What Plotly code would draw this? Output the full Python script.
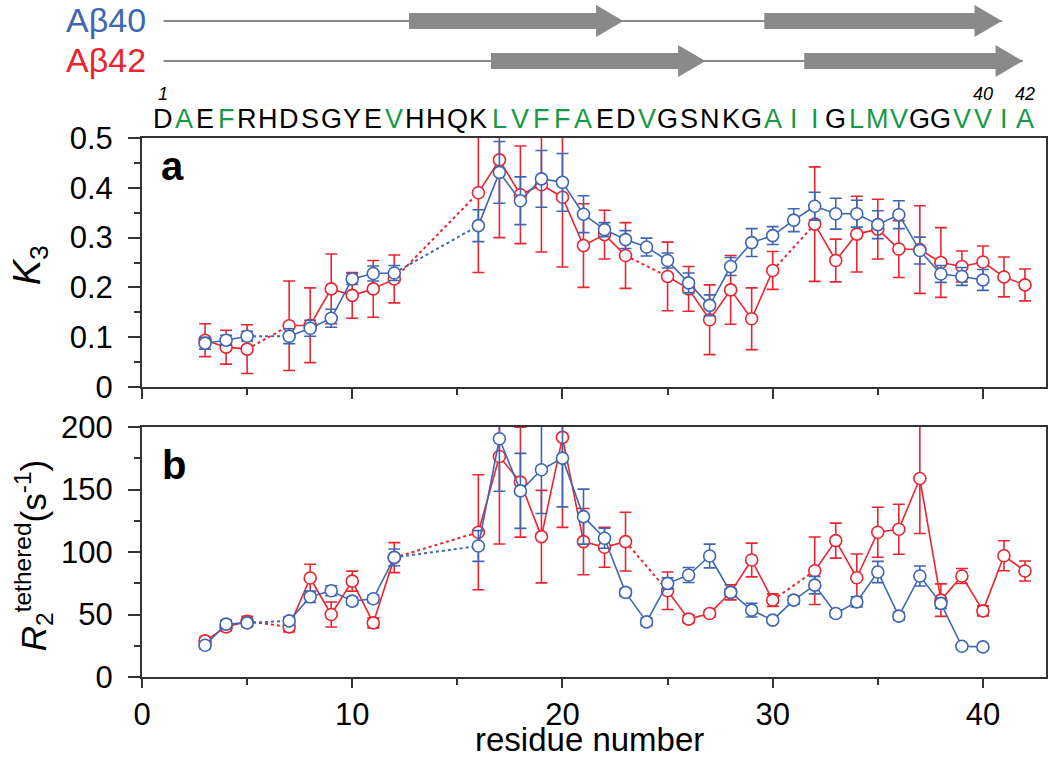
import plotly.graph_objects as go

# ---------------- data ----------------
residues = list(range(3, 43))
N = None
k3_ab40 = [0.088, 0.094, 0.102, N, 0.102, 0.118, 0.138, 0.217, 0.228, 0.229, N, N, N,
           0.324, 0.431, 0.374, 0.418, 0.411, 0.347, 0.316, 0.296, 0.281, 0.254, 0.209,
           0.164, 0.242, 0.290, 0.304, 0.335, 0.363, 0.348, 0.348, 0.326, 0.346, 0.274,
           0.227, 0.222, 0.215, N, N]
k3_ab40_err = [0.012, 0.010, 0.010, N, 0.015, 0.016, 0.018, 0.011, 0.015, 0.015, N, N, N,
               0.032, 0.062, 0.048, 0.057, 0.058, 0.037, 0.014, 0.018, 0.018, 0.015, 0.020,
               0.021, 0.018, 0.028, 0.018, 0.023, 0.028, 0.031, 0.027, 0.028, 0.028, 0.027,
               0.017, 0.018, 0.021, N, N]
k3_ab42 = [0.094, 0.080, 0.076, N, 0.123, 0.124, 0.197, 0.184, 0.197, 0.217, N, N, N,
           0.390, 0.456, 0.386, 0.406, 0.381, 0.284, 0.306, 0.264, N, 0.222, 0.197,
           0.135, 0.195, 0.137, 0.234, N, 0.327, 0.254, 0.307, 0.317, 0.277, 0.276,
           0.250, 0.242, 0.251, 0.221, 0.205]
k3_ab42_err = [0.033, 0.034, 0.049, N, 0.090, 0.075, 0.070, 0.046, 0.057, 0.048, N, N, N,
               0.160, 0.156, 0.098, 0.135, 0.140, 0.084, 0.049, 0.066, N, 0.069, 0.045,
               0.070, 0.069, 0.062, 0.038, N, 0.115, 0.043, 0.076, 0.060, 0.057, 0.088,
               0.070, 0.031, 0.032, 0.040, 0.032]
r2_ab40 = [25.4, 42.3, 43.3, N, 44.9, 64.2, 69.0, 60.7, 62.6, 95.7, N, N, N,
           104.8, 190.6, 148.9, 165.8, 175.1, 128.3, 111.0, 67.7, 44.1, 74.9, 81.6,
           96.8, 67.7, 53.5, 45.5, 61.5, 73.5, 50.8, 60.1, 84.0, 48.7, 80.8,
           58.9, 24.6, 24.1, N, N]
r2_ab40_err = [3, 3, 3, N, 3, 4.5, 4, 3, 3, 6.7, N, N, N,
               12.3, 42, 30, 35, 39, 22, 8, 3, 3, 4.5, 6,
               9.5, 3, 5.5, 2, 3, 7, 3, 4, 8.5, 3, 8,
               4, 2, 2, N, N]
r2_ab42 = [28.9, 40.1, 44.5, N, 40.1, 79.2, 50.0, 76.7, 43.3, 95.5, N, N, N,
           115.8, 176.4, 155.9, 112.3, 191.7, 108.3, 103.8, 108.3, N, 69.0, 46.3,
           50.8, 67.7, 93.6, 61.5, N, 85.0, 109.1, 79.4, 115.8, 118.2, 158.8,
           61.5, 80.8, 52.9, 97.0, 84.8]
r2_ab42_err = [3, 3, 4, N, 4, 11, 10, 8, 4, 12, N, N, N,
               46, 70, 44, 37, 72, 26.5, 16, 23.5, N, 15, 3,
               3, 6, 13.5, 5, N, 27, 14, 19, 20, 20, 44,
               13, 6, 4, 12, 8]

sequence = "DAEFRHDSGYEVHHQKLVFFAEDVGSNKGAIIGLMVGGVVIA"
hydrophobic = [2, 4, 12, 17, 18, 19, 20, 21, 24, 30, 31, 32, 34, 35, 36, 39, 40, 41, 42]
seq_numbers = [1, 40, 42]
strands_ab40 = [(12.7, 22.9), (29.6, 40.9)]
strands_ab42 = [(16.6, 26.8), (31.5, 41.9)]
line_end = {"Aβ40": 40.9, "Aβ42": 41.9}

BLUE = "#3e66b3"
RED = "#ea2530"
GREEN = "#17994a"
GRAY = "#8a8a8a"
FONT = "Liberation Sans, Arial, Helvetica, sans-serif"
NARROW = "Liberation Sans Narrow, Liberation Sans, Arial, sans-serif"


def segments(x, y):
    """solid (consecutive) and dotted (across gaps) polylines"""
    pts = [(a, b) for a, b in zip(x, y) if b is not None]
    sx, sy, dx, dy = [], [], [], []
    prev = None
    for a, b in pts:
        if prev is not None:
            if a - prev[0] == 1:
                sx += [prev[0], a, None]; sy += [prev[1], b, None]
            else:
                dx += [prev[0], a, None]; dy += [prev[1], b, None]
        prev = (a, b)
    return sx, sy, dx, dy


fig = go.Figure()


def add_series(y, err, color, xa, ya):
    sx, sy, dx, dy = segments(residues, y)
    fig.add_trace(go.Scatter(x=dx, y=dy, mode="lines", xaxis=xa, yaxis=ya,
                             line=dict(color=color, width=2, dash="dot"),
                             showlegend=False, hoverinfo="skip"))
    fig.add_trace(go.Scatter(x=sx, y=sy, mode="lines", xaxis=xa, yaxis=ya,
                             line=dict(color=color, width=1.6),
                             showlegend=False, hoverinfo="skip"))
    fig.add_trace(go.Scatter(x=residues, y=y, mode="markers", xaxis=xa, yaxis=ya,
                             marker=dict(symbol="circle", size=12, color="white",
                                         line=dict(color=color, width=1.6)),
                             error_y=dict(type="data", array=err, visible=True,
                                          color=color, thickness=1.6, width=6),
                             showlegend=False))


add_series(k3_ab42, k3_ab42_err, RED, "x", "y")
add_series(k3_ab40, k3_ab40_err, BLUE, "x", "y")
add_series(r2_ab42, r2_ab42_err, RED, "x2", "y2")
add_series(r2_ab40, r2_ab40_err, BLUE, "x2", "y2")

# ---------------- layout ----------------
axis_common = dict(showline=True, linecolor="#333", linewidth=2, mirror=True,
                   ticks="outside", tickcolor="#333", tickwidth=2,
                   showgrid=False, zeroline=False)
xtickfont = dict(family=FONT, size=31, color="black")
ytickfont = dict(family=FONT, size=31, color="black")

PH = 539.0  # plot-area height in px (used for paper coords)
PW = 906.0


def py(pix):
    return (677 - pix) / PH


def px(pix):
    return (pix - 142) / PW


minor_x = dict(dtick=5, ticklen=6, tickcolor="#333", tickwidth=2, ticks="outside")
fig.update_layout(
    width=1050, height=759,
    margin=dict(l=142, r=2, t=138, b=82),
    paper_bgcolor="white", plot_bgcolor="white",
    xaxis=dict(domain=[0, 1], anchor="y", range=[0, 43], dtick=10, ticklen=10,
               showticklabels=False, minor=minor_x, tickfont=xtickfont, **axis_common),
    yaxis=dict(domain=[py(387), 1], anchor="x", range=[0, 0.5], dtick=0.1, ticklen=12,
               tickformat=".1~f", tickfont=ytickfont, ticklabelstandoff=9,
               minor=dict(dtick=0.05, ticklen=6, tickcolor="#333", tickwidth=2, ticks="outside"),
               **axis_common),
    xaxis2=dict(domain=[0, 1], anchor="y2", range=[0, 43], dtick=10, ticklen=9,
                minor=minor_x, tickfont=xtickfont, **axis_common),
    yaxis2=dict(domain=[0, py(427)], anchor="x2", range=[0, 200], dtick=50, ticklen=12,
                tickfont=ytickfont, ticklabelstandoff=9,
                minor=dict(dtick=25, ticklen=6, tickcolor="#333", tickwidth=2, ticks="outside"),
                **axis_common),
)

ann = []


def txt(text, x, y, size, color="black", xref="paper", family=FONT, **kw):
    d = dict(text=text, x=x, y=y, xref=xref, yref="paper", showarrow=False,
             xanchor=kw.pop("xanchor", "center"), yanchor=kw.pop("yanchor", "middle"),
             font=dict(family=family, size=size, color=color))
    d.update(kw)
    ann.append(d)


# panel letters
txt("<b>a</b>", px(173), py(166), 40)
txt("<b>b</b>", px(174), py(465), 40)
# axis titles
txt("<i>K</i><sub>3</sub>", px(30), py(265), 38, textangle=-90)
txt("<i>R</i><sub>2</sub><sup>tethered</sup>(s<sup>-1</sup>)", px(33), py(556), 35, textangle=-90)
txt("residue number", px(590), py(759), 33, yanchor="bottom", borderpad=0)
# sequence
for i, ch in enumerate(sequence):
    r = i + 1
    txt(ch, r, py(119), 27, color=GREEN if r in hydrophobic else "black", xref="x", family=NARROW)
for n in seq_numbers:
    txt(f"<i>{n}</i>", n, py(94), 18, xref="x")
# construct labels
txt("Aβ40", px(148), py(20), 34, color=BLUE, xanchor="right")
txt("Aβ42", px(148), py(60), 34, color=RED, xanchor="right")
fig.update_layout(annotations=ann)

shapes = []
body = 8 / PH
head = 16 / PH
head_len = 1.3
for name, strands, ypix in [("Aβ40", strands_ab40, 21), ("Aβ42", strands_ab42, 61)]:
    yc = py(ypix)
    shapes.append(dict(type="line", xref="x", yref="paper", x0=1.03, x1=line_end[name],
                       y0=yc, y1=yc, line=dict(color=GRAY, width=2)))
    for s, e in strands:
        hb = e - head_len
        path = (f"M {s},{yc - body} L {hb},{yc - body} L {hb},{yc - head} L {e},{yc} "
                f"L {hb},{yc + head} L {hb},{yc + body} L {s},{yc + body} Z")
        shapes.append(dict(type="path", xref="x", yref="paper", path=path,
                           fillcolor=GRAY, line=dict(width=0)))
fig.update_layout(shapes=shapes)

fig.write_html("out.html", config={"displayModeBar": False},
               post_script="document.body.style.margin='0';document.body.style.overflow='hidden';")
